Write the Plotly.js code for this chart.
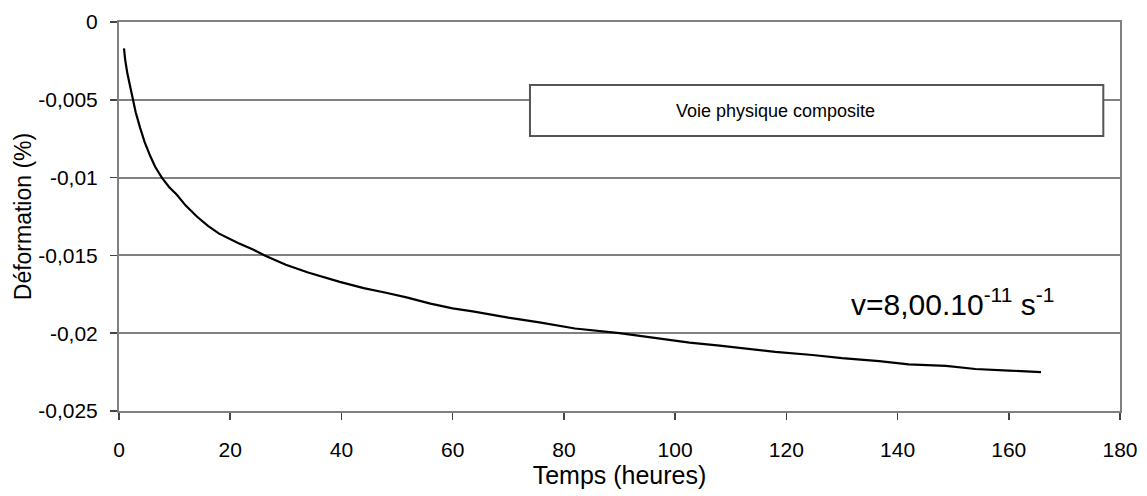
<!DOCTYPE html>
<html>
<head>
<meta charset="utf-8">
<script src="https://cdn.plot.ly/plotly-3.0.1.min.js"></script>
<style>html,body{margin:0;padding:0;background:#fff;}#chart{width:1147px;height:496px;}</style>
</head>
<body>
<div id="chart"></div>
<script>
const timeHours = [0.9, 1.1, 1.5, 2.0, 2.5, 3.0, 3.8, 4.6, 5.6, 6.5, 7.7, 9, 10.4, 12, 14, 16, 18, 21.4, 24, 26.2, 30, 34, 39.7, 44, 48, 51.7, 56, 60, 63.6, 70, 75.6, 82, 90, 96, 102.6, 108, 112.8, 118, 124.7, 130, 136.7, 142, 148.7, 154, 160, 165.8];
const deformation = [-0.0017, -0.0024, -0.0033, -0.0042, -0.0050, -0.0058, -0.0068, -0.0077, -0.0086, -0.0093, -0.0100, -0.0106, -0.0111, -0.0118, -0.0125, -0.0131, -0.0136, -0.0142, -0.0146, -0.0150, -0.0156, -0.0161, -0.0167, -0.0171, -0.0174, -0.0177, -0.0181, -0.0184, -0.0186, -0.0190, -0.0193, -0.0197, -0.0200, -0.0203, -0.0206, -0.0208, -0.0210, -0.0212, -0.0214, -0.0216, -0.0218, -0.0220, -0.0221, -0.0223, -0.0224, -0.0225];
const xTickVals = [0, 20, 40, 60, 80, 100, 120, 140, 160, 180];
const xTickText = ['0', '20', '40', '60', '80', '100', '120', '140', '160', '180'];
const yTickVals = [0, -0.005, -0.01, -0.015, -0.02, -0.025];
const yTickText = ['0', '-0,005', '-0,01', '-0,015', '-0,02', '-0,025'];
const legendLabel = 'Voie physique composite';
const rateLabel = 'v=8,00.10<sup>-11</sup> s<sup>-1</sup>';

const FONT = 'Liberation Sans, Arial, sans-serif';
const trace = {
  x: timeHours, y: deformation, type: 'scatter', mode: 'lines',
  line: {color: '#000', width: 2.2},
  hoverinfo: 'skip', showlegend: false
};
const layout = {
  width: 1147, height: 496,
  margin: {l: 119, r: 27, t: 22, b: 85},
  paper_bgcolor: '#fff', plot_bgcolor: '#fff',
  font: {family: FONT, color: '#000'},
  showlegend: false,
  xaxis: {
    range: [0, 180], tickvals: xTickVals, ticktext: xTickText,
    showgrid: false, zeroline: false, showline: true, linecolor: '#808080', linewidth: 2,
    mirror: true, ticks: 'outside', ticklen: 7, tickcolor: '#444', tickwidth: 1.5,
    ticklabelstandoff: 12,
    tickfont: {size: 21, family: FONT, color: '#000'},
    title: {text: 'Temps (heures)', font: {size: 25, family: FONT, color: '#000'}, standoff: 6}
  },
  yaxis: {
    range: [-0.025, 0], tickvals: yTickVals, ticktext: yTickText,
    showgrid: true, gridcolor: '#808080', gridwidth: 2, zeroline: false,
    showline: true, linecolor: '#808080', linewidth: 2, mirror: true,
    ticks: 'outside', ticklen: 7, tickcolor: '#444', tickwidth: 1.5,
    ticklabelstandoff: 8,
    tickfont: {size: 21, family: FONT, color: '#000'},
    title: {text: 'Déformation (%)', font: {size: 23, family: FONT, color: '#000'}, standoff: 0}
  },
  shapes: [{
    type: 'rect', xref: 'x', yref: 'y', x0: 73.9, x1: 177.0, y0: -0.00405, y1: -0.00733,
    line: {color: '#555', width: 2}, fillcolor: '#fff', layer: 'above'
  }],
  annotations: [
    {x: 118.0, y: -0.0057, xref: 'x', yref: 'y', text: legendLabel, showarrow: false,
     font: {size: 18, family: FONT, color: '#000'}, xanchor: 'center', yanchor: 'middle'},
    {x: 131.3, y: -0.0180, xref: 'x', yref: 'y', text: rateLabel, showarrow: false,
     font: {size: 30, family: FONT, color: '#000'}, xanchor: 'left', yanchor: 'middle'}
  ]
};
Plotly.newPlot('chart', [trace], layout, {staticPlot: true, displayModeBar: false});
</script>
</body>
</html>
